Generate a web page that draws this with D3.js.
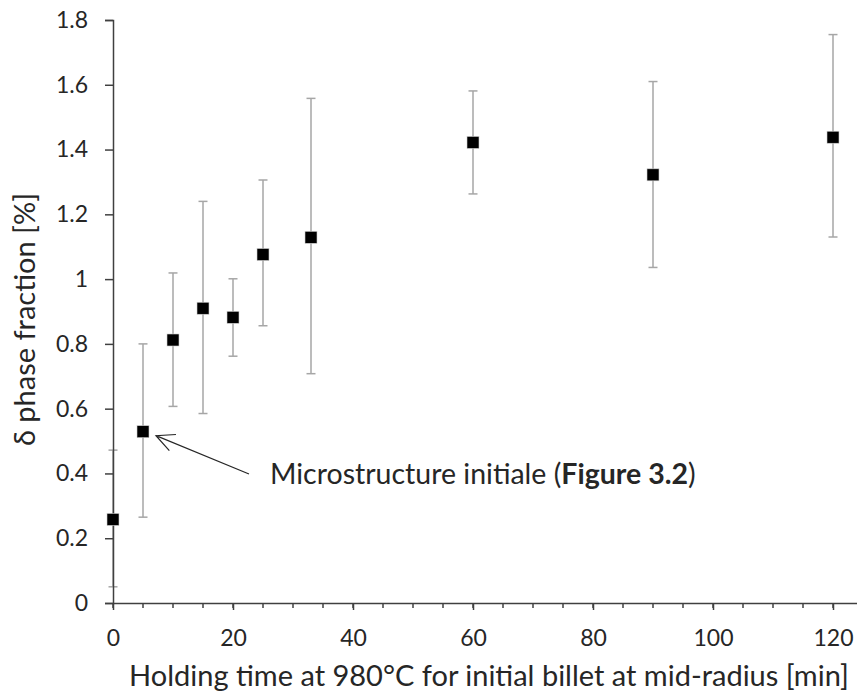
<!DOCTYPE html>
<html>
<head>
<meta charset="utf-8">
<script src="https://cdn.jsdelivr.net/npm/d3@7"></script>
<style>
  body { margin: 0; background: #fff; }
  text { font-family: Lato, "Open Sans", sans-serif; fill: #262626; }
</style>
</head>
<body>
<div id="chart"></div>
<script>
// holding time [min]
const times = [0, 5, 10, 15, 20, 25, 33, 60, 90, 120];
// delta phase fraction [%]
const fractions = [0.258, 0.529, 0.812, 0.910, 0.882, 1.076, 1.129, 1.422, 1.322, 1.438];
const errLow = [0.050, 0.265, 0.607, 0.585, 0.762, 0.856, 0.708, 1.263, 1.036, 1.130];
const errHigh = [0.472, 0.800, 1.019, 1.240, 1.001, 1.306, 1.558, 1.581, 1.610, 1.755];
const xTicks = [0, 20, 40, 60, 80, 100, 120];
const xMinorTicks = d3.range(0, 121, 5);
const yTicks = [0, 0.2, 0.4, 0.6, 0.8, 1, 1.2, 1.4, 1.6, 1.8];

const W = 857, H = 695;
const margin = { top: 20, right: 0, bottom: 92, left: 113 };

const svg = d3.select("#chart").append("svg")
  .attr("width", W)
  .attr("height", H);

const x = d3.scaleLinear().domain([0, 124]).range([margin.left, W - margin.right]);
const y = d3.scaleLinear().domain([0, 1.8]).range([H - margin.bottom, margin.top]);

const data = times.map((t, i) => ({ t, v: fractions[i], lo: errLow[i], hi: errHigh[i] }));

// error bars
const eb = svg.append("g").attr("stroke", "#a6a6a6").attr("stroke-width", 1.5);
eb.selectAll(".stem").data(data).enter().append("line")
  .attr("x1", d => x(d.t)).attr("x2", d => x(d.t))
  .attr("y1", d => y(d.lo)).attr("y2", d => y(d.hi));
eb.selectAll(".capLo").data(data).enter().append("line")
  .attr("x1", d => x(d.t) - 4.5).attr("x2", d => x(d.t) + 4.5)
  .attr("y1", d => y(d.lo)).attr("y2", d => y(d.lo));
eb.selectAll(".capHi").data(data).enter().append("line")
  .attr("x1", d => x(d.t) - 4.5).attr("x2", d => x(d.t) + 4.5)
  .attr("y1", d => y(d.hi)).attr("y2", d => y(d.hi));

// y axis
const yAxis = svg.append("g")
  .attr("transform", `translate(${margin.left},0)`)
  .call(d3.axisLeft(y).tickValues(yTicks).tickSize(8).tickPadding(17)
    .tickFormat(d => d3.format("~g")(d)));
yAxis.select(".domain").attr("stroke", "#404040").attr("stroke-width", 1.5);
yAxis.selectAll(".tick line").attr("stroke", "#404040").attr("stroke-width", 1.5);
yAxis.selectAll("text").style("font-size", "23px").attr("fill", "#262626");

// x axis
const xAxis = svg.append("g")
  .attr("transform", `translate(0,${y(0)})`)
  .call(d3.axisBottom(x).tickValues(xTicks).tickSize(7).tickPadding(20).tickSizeOuter(0));
xAxis.select(".domain").attr("stroke", "#404040").attr("stroke-width", 1.5);
xAxis.selectAll(".tick line").attr("stroke", "#404040").attr("stroke-width", 1.5);
xAxis.selectAll("text").style("font-size", "23px").attr("fill", "#262626");
xAxis.selectAll(".minor").data(xMinorTicks).enter().append("line")
  .attr("class", "minor")
  .attr("x1", d => x(d)).attr("x2", d => x(d))
  .attr("y1", 0).attr("y2", 5)
  .attr("stroke", "#404040").attr("stroke-width", 1.5);

// markers
svg.append("g").selectAll("rect").data(data).enter().append("rect")
  .attr("x", d => x(d.t) - 6)
  .attr("y", d => y(d.v) - 6)
  .attr("width", 12).attr("height", 12)
  .attr("fill", "#000")
  .attr("stroke", "#d0d0d0").attr("stroke-width", 0.6);

// annotation arrow pointing at the 5 min point
const ax = x(5) + 13, ay = y(fractions[1]) + 4;
const tx = 249, ty = 474;
const ang = Math.atan2(ay - ty, ax - tx);
const hl = 20, ha = 0.45;
svg.append("path")
  .attr("d", `M${tx},${ty}L${ax},${ay}` +
    `M${ax - hl * Math.cos(ang - ha)},${ay - hl * Math.sin(ang - ha)}L${ax},${ay}` +
    `L${ax - hl * Math.cos(ang + ha)},${ay - hl * Math.sin(ang + ha)}`)
  .attr("fill", "none").attr("stroke", "#262626").attr("stroke-width", 1.2);

const note = svg.append("text")
  .attr("x", 270).attr("y", 484)
  .style("font-size", "28.5px");
note.append("tspan").text("Microstructure initiale (");
note.append("tspan").attr("font-weight", "bold").text("Figure 3.2");
note.append("tspan").text(")");

// axis titles
svg.append("text")
  .attr("x", 489).attr("y", 686)
  .attr("text-anchor", "middle")
  .style("font-size", "29px")
  .text("Holding time at 980°C for initial billet at mid-radius [min]");

svg.append("text")
  .attr("transform", `translate(35,${(y(0) + y(1.8)) / 2 + 8}) rotate(-90)`)
  .attr("text-anchor", "middle")
  .style("font-size", "29px")
  .text("δ phase fraction [%]");
</script>
</body>
</html>
